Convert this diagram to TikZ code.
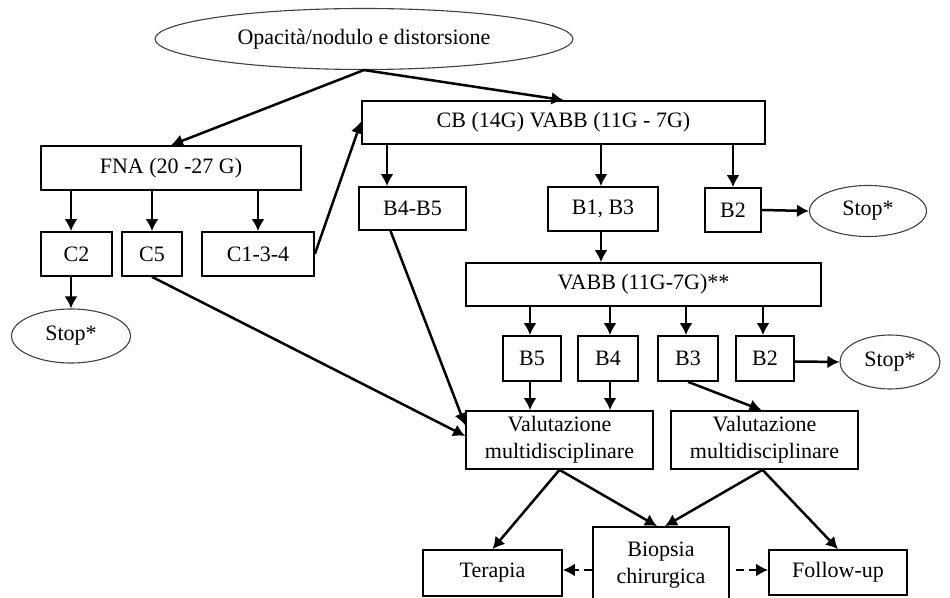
\documentclass[tikz,border=0pt]{standalone}
\usepackage{fontspec}
\setmainfont{Liberation Serif}
\usetikzlibrary{arrows.meta,shapes.geometric,calc}
\begin{document}
\begin{tikzpicture}[x=0.5pt,y=-0.5pt,
  font=\fontsize{11}{13.5}\selectfont,
  bx/.style={draw,line width=0.85pt,inner sep=0pt,align=center},
  ell/.style={ellipse,draw=black!75,line width=0.55pt,inner sep=0pt},
  arr/.style={line width=1.25pt,-{Latex[length=6pt,width=6.5pt]}},
  darr/.style={line width=1.25pt,dash pattern=on 4pt off 2.5pt,-{Latex[length=6pt,width=6.5pt]}}]
\useasboundingbox (0,0) rectangle (950,598);

% nodes
\node[ell,minimum width=209pt,minimum height=30.5pt] (top) at (364,39) {Opacità/nodulo e distorsione};
\node[bx,minimum width=130pt,minimum height=22pt] (fna) at (171,168) {FNA (20 -27 G)};
\node[bx,minimum width=201.5pt,minimum height=21.5pt] (cb) at (563.5,122.5) {CB (14G) VABB (11G - 7G)};
\node[bx,minimum width=35.5pt,minimum height=22pt] (c2) at (76.5,254) {C2};
\node[bx,minimum width=30pt,minimum height=22pt] (c5) at (152,254) {C5};
\node[bx,minimum width=56pt,minimum height=22pt] (c134) at (258,254) {C1-3-4};
\node[ell,minimum width=59.5pt,minimum height=27pt] (stop1) at (71,336) {Stop*};
\node[bx,minimum width=53.5pt,minimum height=21.5pt] (b45) at (412.5,208.5) {B4-B5};
\node[bx,minimum width=55pt,minimum height=22pt] (b13) at (603,209) {B1, B3};
\node[bx,minimum width=28pt,minimum height=22pt] (b2a) at (733,210) {B2};
\node[ell,minimum width=58.5pt,minimum height=25.5pt] (stop2) at (868,211) {Stop*};
\node[bx,minimum width=177.5pt,minimum height=21.5pt] (vabb) at (643.5,284.5) {VABB (11G-7G)**};
\node[bx,minimum width=29pt,minimum height=22.5pt] (b5) at (532,358.5) {B5};
\node[bx,minimum width=30pt,minimum height=22.5pt] (b4) at (608,358.5) {B4};
\node[bx,minimum width=30pt,minimum height=22.5pt] (b3) at (688,358.5) {B3};
\node[bx,minimum width=29pt,minimum height=22.5pt] (b2b) at (765,358.5) {B2};
\node[ell,minimum width=50pt,minimum height=27pt] (stop3) at (890,362) {Stop*};
\node[bx,minimum width=93.5pt,minimum height=29pt] (val1) at (559.5,440) {Valutazione\\multidisciplinare};
\node[bx,minimum width=93.5pt,minimum height=29pt] (val2) at (764.5,440) {Valutazione\\multidisciplinare};
\node[bx,minimum width=69.5pt,minimum height=23pt] (ter) at (492.5,573) {Terapia};
\node[bx,minimum width=68pt,minimum height=37pt] (bio) at (661,564) {};
\node[align=center,inner sep=0pt] (biot) at (661,565) {Biopsia\\chirurgica};
\node[bx,minimum width=69pt,minimum height=22.5pt] (fol) at (838,572.5) {Follow-up};

% connectors
\draw[arr] (top.south) -- (fna.north);
\draw[arr] (top.south) -- (cb.north);
\draw[arr] (stop1.north |- fna.south) -- (stop1.north |- c2.north);
\draw[arr] (c5.north |- fna.south) -- (c5.north);
\draw[arr] (c134.north |- fna.south) -- (c134.north);
\draw[arr] (stop1.north |- c2.south) -- (stop1.north);
\draw[arr] (c134.east) -- ([yshift=0.5pt]cb.west);
\coordinate (k1) at ([xshift=-12.75pt]b45.north);
\draw[arr] (k1 |- cb.south) -- (k1);
\draw[arr] ([xshift=-1pt]b13.north |- cb.south) -- ([xshift=-1pt]b13.north);
\draw[arr] (b2a.north |- cb.south) -- (b2a.north);
\draw[arr] (b2a.east) -- (stop2.west);
\draw[arr] ([xshift=-1pt]b13.south) -- ([xshift=-1pt]b13.south |- vabb.north);
\draw[arr] ([xshift=-1pt]b5.north |- vabb.south) -- ([xshift=-1pt]b5.north);
\draw[arr] ([xshift=1pt]b4.north |- vabb.south) -- ([xshift=1pt]b4.north);
\draw[arr] ([xshift=-1pt]b3.north |- vabb.south) -- ([xshift=-1pt]b3.north);
\draw[arr] ([xshift=-1pt]b2b.north |- vabb.south) -- ([xshift=-1pt]b2b.north);
\draw[arr] ([yshift=-1.5pt]b2b.east) -- (stop3.west);
\draw[arr] ([xshift=-1pt]b5.south) -- ([xshift=-1pt]b5.south |- val1.north);
\draw[arr] ([xshift=1pt]b4.south) -- ([xshift=1pt]b4.south |- val1.north);
\draw[arr] (b3.south) -- ([xshift=-1.5pt]val2.north);
\draw[arr] ([xshift=-11pt]b45.south) -- ([yshift=-7.5pt]val1.north west);
\draw[arr] (c5.south) -- ([yshift=2pt]val1.west);
\draw[arr] (val1.south) -- (ter.north);
\draw[arr] (val1.south) -- ([xshift=-2pt]bio.north);
\draw[arr] ([xshift=-1pt]val2.south) -- ([xshift=2pt]bio.north);
\draw[arr] ([xshift=-1pt]val2.south) -- (fol.north);
\coordinate (dl) at ([yshift=-3pt]bio.west);
\coordinate (dr) at ([yshift=-3pt]bio.east);
\draw[darr] (dl) -- (dl -| ter.east);
\draw[darr] ([xshift=3pt]dr) -- (dr -| fol.west);
\end{tikzpicture}
\end{document}
